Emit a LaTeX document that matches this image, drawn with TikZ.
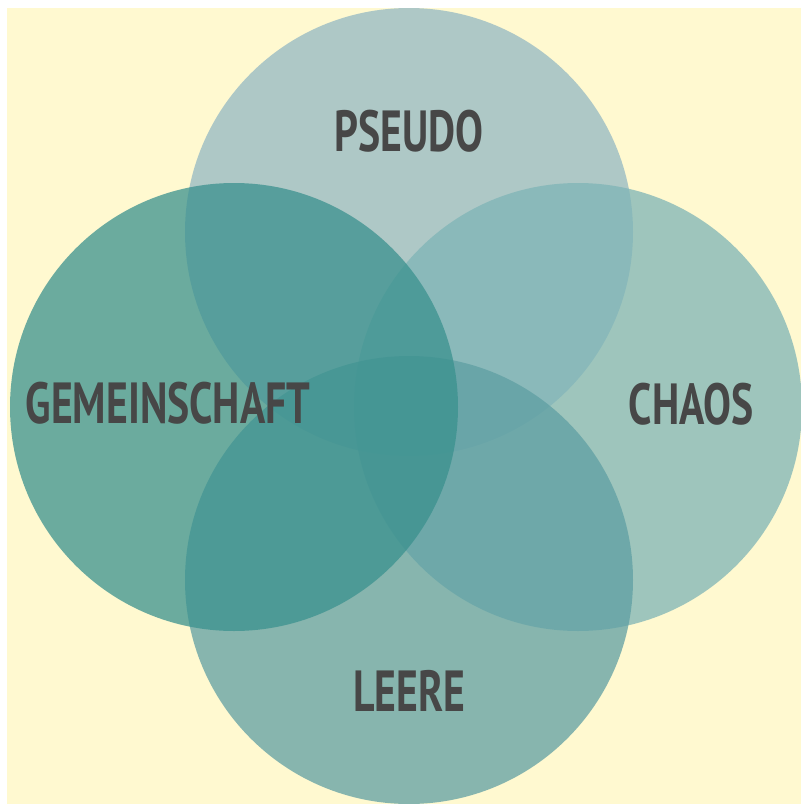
\documentclass[tikz,border=0pt]{standalone}
\usepackage{fontspec}
\newfontfamily\labelfont[FakeStretch=0.72]{PT Sans}
\definecolor{paper}{RGB}{255,249,208}
\definecolor{ink}{HTML}{474747}
\definecolor{tealtop}{RGB}{147,184,195}
\definecolor{tealright}{RGB}{126,180,182}
\definecolor{tealbottom}{RGB}{95,159,163}
\definecolor{tealleft}{RGB}{58,145,142}
\tikzset{
  ring/.style={circle,minimum size=448pt,inner sep=0pt,fill opacity=0.75},
  tag/.style={font=\labelfont\bfseries\fontsize{58}{58}\selectfont,text=ink}
}

\begin{document}
\begin{tikzpicture}[x=1pt,y=-1pt]
  \useasboundingbox (0,0) rectangle (801,804);
  \fill[white] (0,0) rectangle (801,804);
  \fill[paper] (7,8) rectangle (801,804);
  \begin{scope}
    \clip (7,8) rectangle (801,804);
    \node[ring,fill=tealtop] (pseudo) at (409,232) {};
    \node[ring,fill=tealright] (chaos) at (578,407) {};
    \node[ring,fill=tealbottom] (leere) at (409,580) {};
    \node[ring,fill=tealleft] (gemeinschaft) at (234,407) {};
  \end{scope}
  \node[tag] (pseudotag) at (409,131) {PSEUDO};
  \node[tag] (gemtag) at (168,403) {GEMEINSCHAFT};
  \node[tag] (chaostag) at (691,404) {CHAOS};
  \node[tag] (leeretag) at (409,691) {LEERE};
\end{tikzpicture}
\end{document}
